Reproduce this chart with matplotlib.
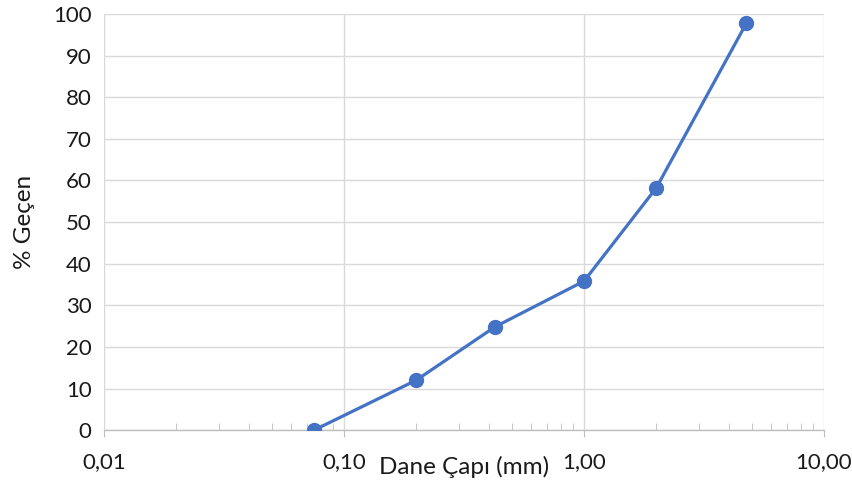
import matplotlib.pyplot as plt
from matplotlib.ticker import FixedLocator, FixedFormatter, LogLocator, NullFormatter

# elek açıklığı (mm) ve geçen yüzde
dane_capi = [0.075, 0.2, 0.425, 1.0, 2.0, 4.75]
gecen = [0.0, 12.0, 24.8, 35.8, 58.2, 97.8]

x_ticks = [0.01, 0.1, 1.0, 10.0]
x_tick_labels = ["0,01", "0,10", "1,00", "10,00"]
y_ticks = list(range(0, 101, 10))

plt.rcParams["font.family"] = ["Lato", "DejaVu Sans"]

grid_color = "#D9D9D9"
tick_color = "#BFBFBF"
text_color = "#1A1A1A"
tick_fs = 16
label_fs = 17.5

fig = plt.figure(figsize=(8.53, 4.91), dpi=100)
ax = fig.add_axes((0.122, 0.124, 0.844, 0.8475))

ax.plot(dane_capi, gecen, color="#4472C4", linewidth=2.3, marker="o",
        markersize=10, zorder=3)

ax.set_xscale("log")
ax.set_xlim(0.01, 10)
ax.set_ylim(0, 100)

ax.xaxis.set_major_locator(FixedLocator(x_ticks))
ax.xaxis.set_major_formatter(FixedFormatter(x_tick_labels))
ax.xaxis.set_minor_locator(LogLocator(base=10, subs=range(2, 10)))
ax.xaxis.set_minor_formatter(NullFormatter())
ax.set_yticks(y_ticks)

ax.grid(True, which="major", color=grid_color, linewidth=1.0)
ax.set_axisbelow(True)
for side in ("top", "right", "left"):
    ax.spines[side].set_visible(False)
ax.spines["bottom"].set_color(tick_color)
ax.spines["bottom"].set_linewidth(1.0)

ax.tick_params(axis="x", which="major", direction="out", length=5,
               color=tick_color, labelsize=tick_fs, labelcolor=text_color, pad=11)
ax.tick_params(axis="x", which="minor", direction="in", length=5,
               color=tick_color)
ax.tick_params(axis="y", which="major", length=0, labelsize=tick_fs,
               labelcolor=text_color, pad=9)

ax.set_xlabel("Dane Çapı (mm)", fontsize=label_fs, color=text_color, labelpad=-12)
ax.set_ylabel("% Geçen", fontsize=label_fs, color=text_color, labelpad=13)

fig.savefig("out.png", dpi=100)
